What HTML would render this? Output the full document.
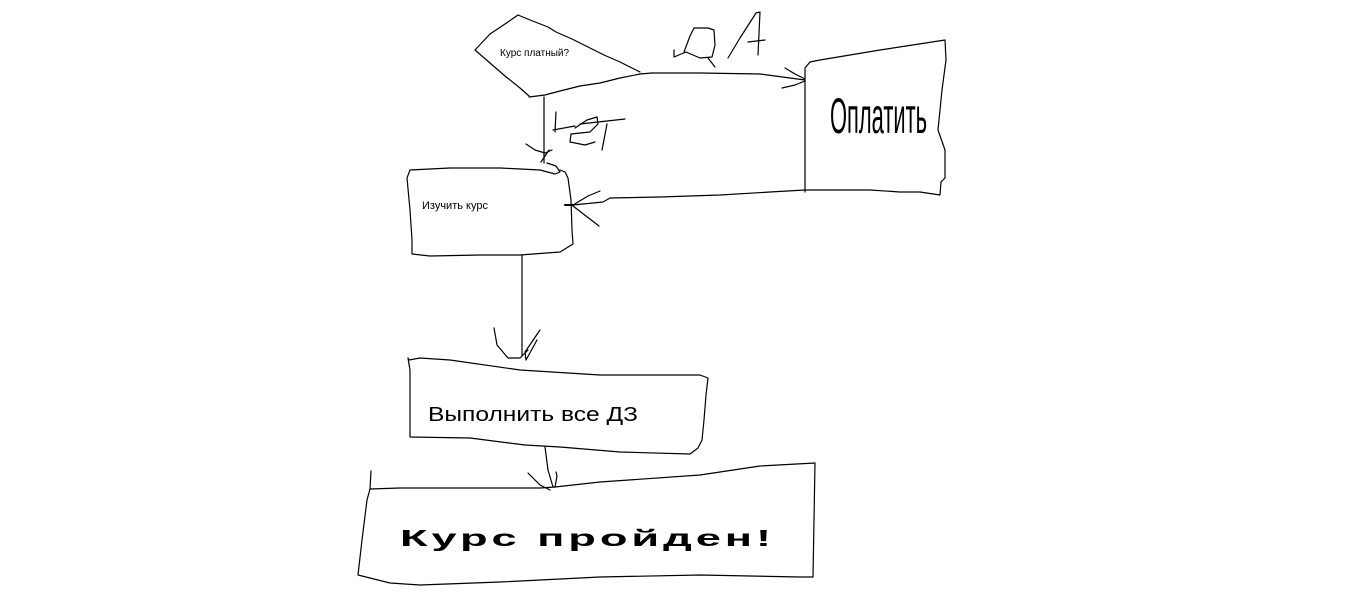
<!DOCTYPE html>
<html><head><meta charset="utf-8"><style>
html,body{margin:0;padding:0;background:#fff;width:1360px;height:614px;overflow:hidden}
svg{display:block}
text{font-family:"Liberation Sans","DejaVu Sans",sans-serif;fill:#000}
</style></head><body>
<svg width="1360" height="614" viewBox="0 0 1360 614" fill="none" stroke="#000" stroke-width="1.2" stroke-linejoin="round" stroke-linecap="round">
<!-- diamond -->
<polyline points="518,15 530,20 548,27 556,32 572,39 590,48 604,55 620,62 632,68 640,72"/>
<polyline points="518,15 505,24 490,34 475,50 490,63 505,76 520,88 529,96"/>
<polyline points="529,97 545,95 560,91 580,86 600,83 620,78 640,74 652,73"/>
<text x="500" y="56" font-size="10" stroke="none">Курс платный?</text>
<!-- yes line -->
<polyline points="652,73 700,73 760,74 790,78 805,80"/>
<polyline points="785,68 795,74 805,79"/>
<polyline points="782,88 795,85 805,81"/>
<!-- ДА -->
<polyline points="674,50 674,57 686,52 700,58 712,57 715,45 714,30 708,28 694,28 690,36 684,52"/>
<polyline points="708,58 715,67"/>
<polyline points="728,58 740,38 756,13 760,12 758,55"/>
<polyline points="748,42 765,40"/>
<!-- Оплатить box -->
<polyline points="805,192 805,68 810,62 820,60 880,50 945,40 946,60 942,90 938,130 945,150 945,178 941,182 940,195 920,192 900,192 870,190 830,190 805,190"/>
<text x="830" y="133" font-size="50" stroke="none" textLength="97" lengthAdjust="spacingAndGlyphs">Оплатить</text>
<!-- line from Оплатить to Изучить -->
<polyline points="805,190 770,192 720,195 660,197 610,198 603,202 573,205"/>
<polyline points="573,205 588,196 600,191"/>
<polyline points="573,206 586,216 599,226"/>
<line x1="565" y1="205" x2="573" y2="205" stroke-width="2"/>
<!-- Нет line -->
<polyline points="544,97 544,163"/>
<polyline points="526,144 535,150 545,153 552,150"/>
<polyline points="541,162 549,150"/>
<!-- Нет -->
<polyline points="556,112 555,132"/>
<polyline points="553,130 575,126"/>
<polyline points="575,128 587,120 597,117 598,124 590,132 571,134 570,142 585,145 595,142"/>
<polyline points="580,124 625,119"/>
<polyline points="607,124 602,150"/>
<!-- Изучить курс box -->
<polyline points="547,163 556,166 560,172 555,174 540,170 500,168 450,168 410,170 407,178 410,210 412,240 412,254 430,256 480,255 520,255 560,252 573,244 572,230 571,200 568,178 565,172 560,170"/>
<text x="422" y="209" font-size="11" stroke="none">Изучить курс</text>
<!-- line down -->
<polyline points="522,255 522,356"/>
<polyline points="494,328 497,345 508,358 520,358 528,350"/>
<polyline points="540,330 525,352 526,360 537,340"/>
<!-- Выполнить box -->
<polyline points="408,358 409,360 420,358 450,360 520,370 600,375 700,375 708,378 706,395 704,420 702,440 698,448 690,454 620,452 560,447 525,445 470,438 410,437 410,370 408,358"/>
<text x="428" y="421" font-size="20" stroke="none" textLength="210" lengthAdjust="spacingAndGlyphs">Выполнить все ДЗ</text>
<!-- arrow to final -->
<polyline points="545,447 548,470 553,487"/>
<polyline points="528,473 540,485 550,490"/>
<polyline points="555,487 557,476 556,472"/>
<!-- Курс пройден box -->
<polyline points="371,471 370,489"/>
<polyline points="370,489 400,488 450,488 540,488 555,487"/>
<polyline points="555,487 600,482 700,475 760,466 815,463 814,520 813,577 800,577 700,575 600,577 500,582 420,585 390,583 370,578 358,575 362,540 367,500 370,489"/>
<text x="400" y="546" font-size="23" font-weight="bold" stroke="none" textLength="375" lengthAdjust="spacingAndGlyphs" letter-spacing="2">Курс пройден!</text>
</svg>
</body></html>
